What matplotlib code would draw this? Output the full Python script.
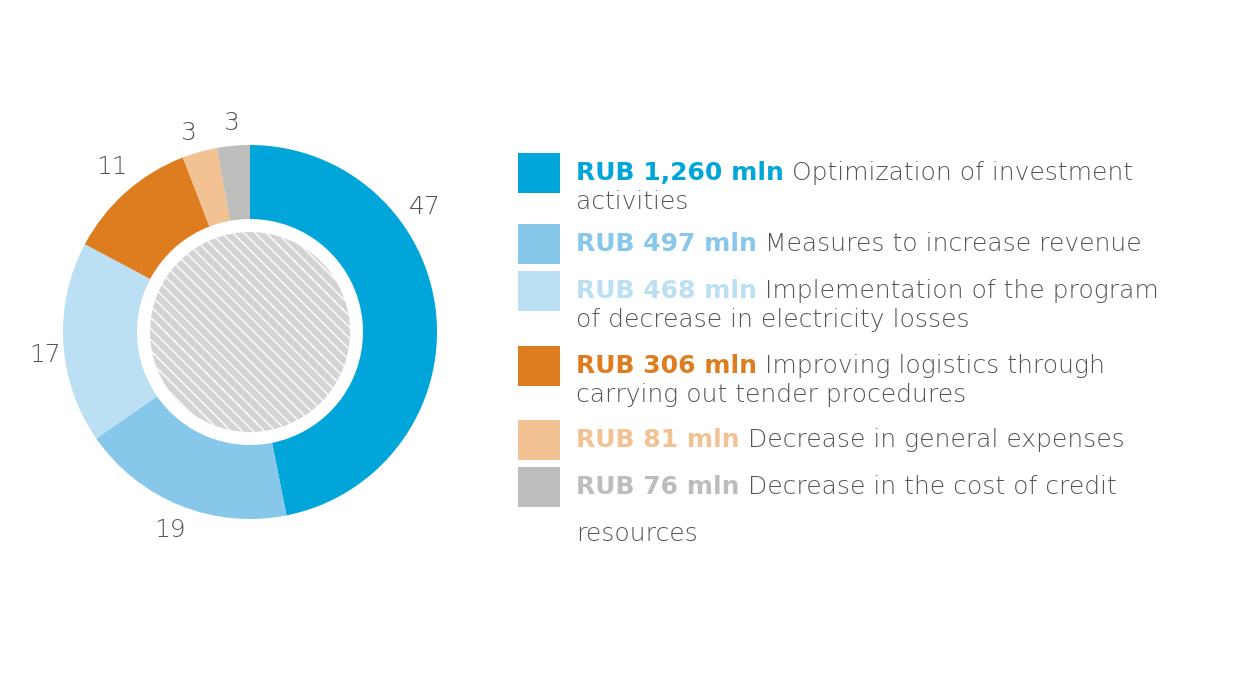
import matplotlib
matplotlib.use("Agg")
import matplotlib.pyplot as plt
from matplotlib.patches import Circle

values = [1260, 497, 468, 306, 81, 76]
pct_labels = ["47", "19", "17", "11", "3", "3"]
amounts = ["RUB 1,260 mln", "RUB 497 mln", "RUB 468 mln", "RUB 306 mln", "RUB 81 mln", "RUB 76 mln"]
descs = [" Optimization of investment\nactivities",
         " Measures to increase revenue",
         " Implementation of the program\nof decrease in electricity losses",
         " Improving logistics through\ncarrying out tender procedures",
         " Decrease in general expenses",
         " Decrease in the cost of credit\n\nresources"]
colors = ["#00A6D9", "#86C7EA", "#BBDFF3", "#DE7D1F", "#F2C293", "#BDBDBC"]

W, H = 1240, 691
fig = plt.figure(figsize=(12.4, 6.91), dpi=100)
cx, cy, R = 250, 332, 187
pax = fig.add_axes([(cx - R) / W, (H - cy - R) / H, 2 * R / W, 2 * R / H])
pax.pie(values, colors=colors, startangle=90, counterclock=False, radius=1,
        wedgeprops=dict(width=1 - 113 / R, linewidth=0))
pax.add_patch(Circle((0, 0), 100 / R, facecolor="#D4D4D4", edgecolor="white",
                     hatch="\\\\\\", linewidth=0))
pax.set_xlim(-1, 1); pax.set_ylim(-1, 1); pax.set_aspect("equal"); pax.axis("off")

ax = fig.add_axes([0, 0, 1, 1])
ax.set_xlim(0, W); ax.set_ylim(H, 0); ax.axis("off")

FONT = "DejaVu Sans"
label_pos = [(425, 207), (170, 530), (45, 355), (112, 167), (188, 133), (231, 123)]
for t, (x, y) in zip(pct_labels, label_pos):
    ax.text(x, y, t, fontsize=18, color="#555555", ha="center", va="center",
            family=FONT, fontweight="light")

rows = [173, 244, 291, 366, 440, 487]
fig.canvas.draw()
r = fig.canvas.get_renderer()
for y, c, a, d in zip(rows, colors, amounts, descs):
    ax.add_patch(plt.Rectangle((518, y - 20), 42, 40, color=c, linewidth=0))
    base = y + 7
    t1 = ax.text(576, base, a, fontsize=18, color=c, fontweight="bold",
                 family=FONT, va="baseline", ha="left")
    bb = t1.get_window_extent(renderer=r)
    x1 = ax.transData.inverted().transform((bb.x1, 0))[0]
    lines = d.split("\n")
    ax.text(x1, base, lines[0], fontsize=18, color="#555555", family=FONT,
            fontweight="light", va="baseline", ha="left")
    extra = lines[1:]
    if len(extra) == 1:
        ax.text(576, base + 29, extra[0], fontsize=18, color="#555555", family=FONT,
                fontweight="light", va="baseline", ha="left")
    elif len(extra) == 2:
        ax.text(576, base + 47, extra[1], fontsize=18, color="#555555", family=FONT,
                fontweight="light", va="baseline", ha="left")

fig.savefig("out.png", dpi=100)
